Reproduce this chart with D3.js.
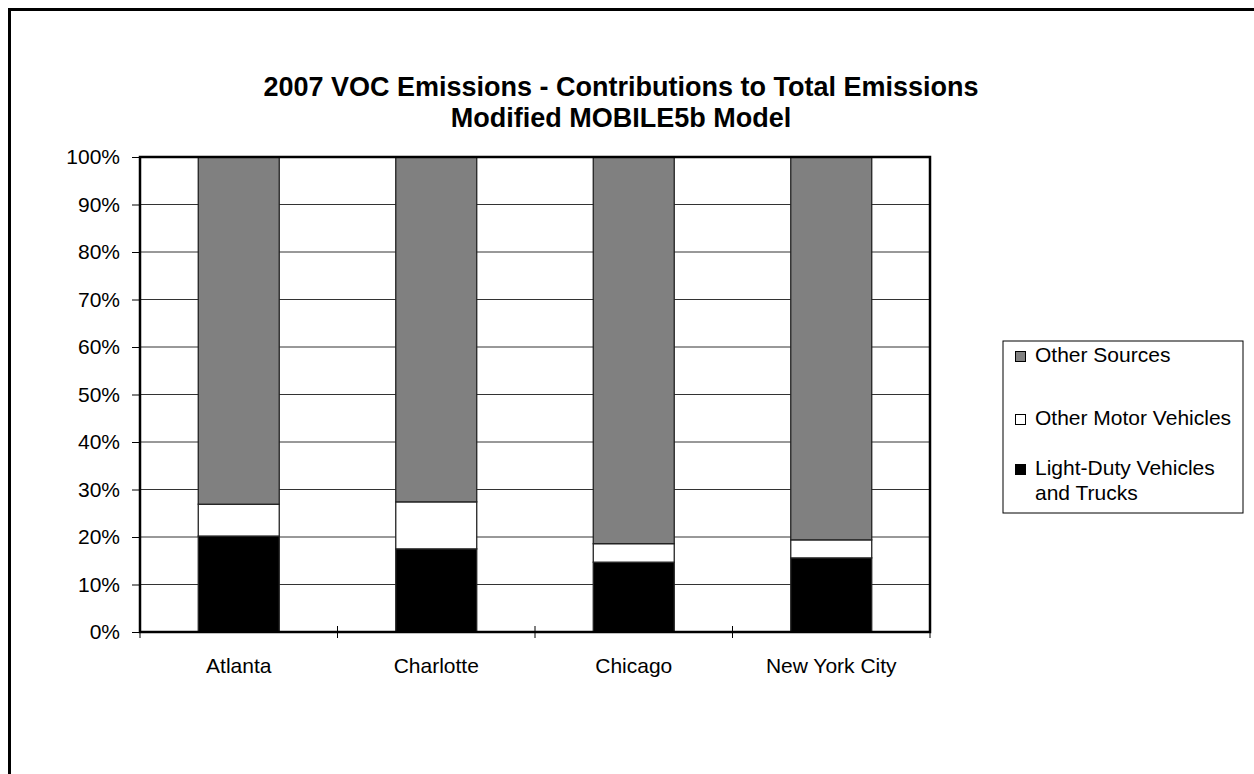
<!DOCTYPE html>
<html><head><meta charset="utf-8">
<script src="https://cdn.jsdelivr.net/npm/d3@7"></script>
<style>body{margin:0;background:#fff}svg{display:block}text{font-family:"Liberation Sans",Arial,sans-serif}</style>
</head><body>
<svg id="c" width="1254" height="774"></svg>
<script>
const categories = ["Atlanta", "Charlotte", "Chicago", "New York City"];
const lightDuty = [20.2, 17.5, 14.7, 15.6];
const otherMotor = [6.7, 9.9, 3.9, 3.8];
const otherSources = [73.1, 72.6, 81.4, 80.6];
const seriesNames = ["Light-Duty Vehicles and Trucks", "Other Motor Vehicles", "Other Sources"];
const seriesColors = ["#000000", "#ffffff", "#808080"];
const yTicks = [0,10,20,30,40,50,60,70,80,90,100];
const titleLines = ["2007 VOC Emissions - Contributions to Total Emissions", "Modified MOBILE5b Model"];

const svg = d3.select("#c");
svg.append("rect").attr("x",9.5).attr("y",9.5).attr("width",1260).attr("height",780)
  .attr("fill","none").attr("stroke","#000").attr("stroke-width",3);

const L=140, R=930, T=157, B=632;
const x = d3.scaleBand().domain(categories).range([L,R]).paddingInner(0.59).paddingOuter(0.295);
const y = d3.scaleLinear().domain([0,100]).range([B,T]);

// gridlines
svg.append("g").selectAll("line").data(yTicks.slice(1)).join("line")
  .attr("x1",L).attr("x2",R).attr("y1",d=>y(d)).attr("y2",d=>y(d))
  .attr("stroke","#333").attr("stroke-width",1);

const rows = categories.map((c,i)=>({cat:c, s0:lightDuty[i], s1:otherMotor[i], s2:otherSources[i]}));
const stack = d3.stack().keys(["s0","s1","s2"])(rows);
svg.append("g").selectAll("g").data(stack).join("g")
  .attr("fill",(d,i)=>seriesColors[i])
  .selectAll("rect").data(d=>d).join("rect")
  .attr("x",d=>x(d.data.cat)).attr("width",x.bandwidth())
  .attr("y",d=>y(d[1])).attr("height",d=>y(d[0])-y(d[1]))
  .attr("stroke","#222").attr("stroke-width",1.3);

// plot border
svg.append("rect").attr("x",L).attr("y",T).attr("width",R-L).attr("height",B-T)
  .attr("fill","none").attr("stroke","#000").attr("stroke-width",2.5);

// y axis
const ya = svg.append("g").attr("transform",`translate(${L},0)`)
  .call(d3.axisLeft(y).tickValues(yTicks).tickFormat(d=>d+"%").tickSize(8).tickPadding(12));
ya.select(".domain").remove();
ya.selectAll("line").attr("stroke","#000");
ya.selectAll("text").attr("font-size",21).attr("fill","#000").attr("font-family","Liberation Sans, Arial, sans-serif");

// x axis
const bounds = d3.range(categories.length+1).map(i=>L+i*(R-L)/categories.length);
svg.append("g").selectAll("line").data(bounds).join("line")
  .attr("x1",d=>d).attr("x2",d=>d).attr("y1",B-6).attr("y2",B+6).attr("stroke","#000");
svg.append("g").selectAll("text").data(categories).join("text")
  .attr("x",d=>x(d)+x.bandwidth()/2).attr("y",B+41).attr("text-anchor","middle")
  .attr("font-size",21).text(d=>d);

// title
svg.append("g").selectAll("text").data(titleLines).join("text")
  .attr("x",621).attr("y",(d,i)=>96+i*31).attr("text-anchor","middle")
  .attr("font-size",27).attr("font-weight","bold").text(d=>d);

// legend
svg.append("rect").attr("x",1003).attr("y",341).attr("width",240).attr("height",172)
  .attr("fill","#fff").attr("stroke","#000").attr("stroke-width",1);
const legendItems = [
  {name:seriesNames[2], color:seriesColors[2], lines:["Other Sources"], y:362},
  {name:seriesNames[1], color:seriesColors[1], lines:["Other Motor Vehicles"], y:425},
  {name:seriesNames[0], color:seriesColors[0], lines:["Light-Duty Vehicles","and Trucks"], y:475}
];
const lg = svg.append("g").selectAll("g").data(legendItems).join("g");
lg.append("rect").attr("x",1015.5).attr("y",d=>d.y-10.5).attr("width",10).attr("height",10)
  .attr("fill",d=>d.color).attr("stroke","#000").attr("stroke-width",1);
lg.each(function(d){
  d3.select(this).selectAll("text").data(d.lines).join("text")
    .attr("x",1035).attr("y",(t,i)=>d.y+i*25).attr("font-size",21).text(t=>t);
});
</script>
</body></html>
